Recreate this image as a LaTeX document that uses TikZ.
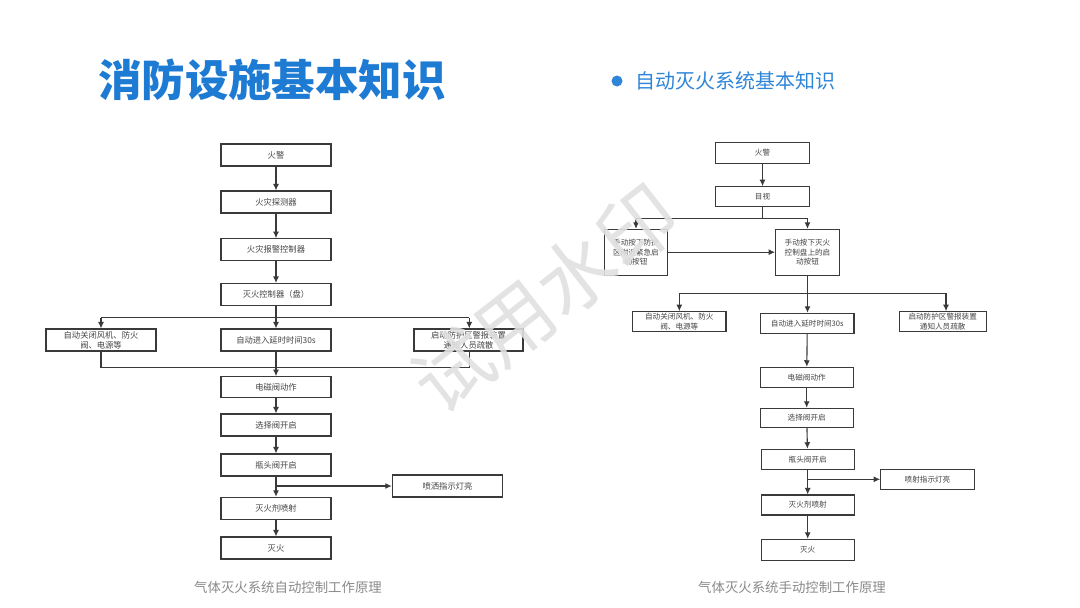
\documentclass[tikz,border=0pt]{standalone}
\usepackage{fontspec}
\setmainfont{Noto Sans CJK SC}
\usetikzlibrary{arrows.meta}
\definecolor{titleblue}{HTML}{1E7BD3}
\definecolor{subblue}{HTML}{2F86D9}
\definecolor{boxline}{HTML}{3A3A3A}
\definecolor{boxtext}{HTML}{444444}
\definecolor{capgray}{HTML}{8A8A8A}
\tikzset{
  box/.style={draw=boxline, line width=1.1pt, inner sep=0pt, align=center, text=boxtext,
    font=\fontsize{8.3}{10}\selectfont},
  lbox/.style={box, minimum width=110pt, minimum height=22pt},
  rbox/.style={box, minimum width=93.3pt, minimum height=20pt, font=\fontsize{7.6}{9.2}\selectfont},
  conn/.style={draw=boxline, line width=1.1pt},
  arr/.style={conn, -{Latex[length=6.5pt,width=6pt]}},
}
\begin{document}
\begin{tikzpicture}[x=1pt,y=-1pt]
\useasboundingbox (0,0) rectangle (1080,608);
\fill[white] (0,0) rectangle (1080,608);
% titles
\node[text=titleblue, font=\fontsize{43.5}{47}\bfseries\selectfont, inner sep=0] (title) at (272,80) {消防设施基本知识};
\fill[subblue] (617,81) circle (5.5);
\node[text=subblue, font=\fontsize{20}{24}\selectfont, inner sep=0, anchor=west] (sub) at (635,81) {自动灭火系统基本知识};
% ---------- left diagram ----------
\node[lbox] (L1) at (276,155) {火警};
\node[lbox] (L2) at (276,202) {火灾探测器};
\node[lbox] (L3) at (276,249.7) {火灾报警控制器};
\node[lbox] (L4) at (276,294.5) {灭火控制器（盘）};
\node[lbox] (L5a) at (101,340) {自动关闭风机、防火\\阀、电源等};
\node[lbox] (L5b) at (276,340) {自动进入延时时间30s};
\node[lbox, minimum width=109pt] (L5c) at (468.5,340) {启动防护区警报装置\\通知人员疏散};
\node[lbox, minimum height=21pt] (L6) at (276,387.2) {电磁阀动作};
\node[lbox] (L7) at (276,425) {选择阀开启};
\node[lbox] (L8) at (276,465) {瓶头阀开启};
\node[lbox] (L9) at (276,508.3) {灭火剂喷射};
\node[lbox] (L10) at (276,548) {灭火};
\node[lbox, minimum width=110.4pt] (LS) at (447.5,486) {喷洒指示灯亮};
\draw[arr] (L1) -- (L2);
\draw[arr] (L2) -- (L3);
\draw[arr] (L3) -- (L4);
\draw[arr] (L4) -- (L5b);
\coordinate (jl) at (101,317.7);
\coordinate (jr) at (469.3,317.7);
\draw[conn] (jl) -- (jr);
\draw[arr] (jl) -- (L5a.north);
\draw[arr] (jr) -- (jr |- L5c.north);
\coordinate (ml) at (101,367.3);
\coordinate (mr) at (469.3,367.3);
\draw[conn] (L5a.south) -- (ml) -- (mr) -- (mr |- L5c.south);
\draw[arr] (L5b) -- (L6);
\draw[arr] (L6) -- (L7);
\draw[arr] (L7) -- (L8);
\draw[arr] (L8) -- (L9);
\coordinate (bs) at (276,486);
\draw[arr] (bs) -- (LS.west);
\draw[arr] (L9) -- (L10);
\node[text=capgray, font=\fontsize{13.4}{16}\selectfont, inner sep=0] (capL) at (288,587) {气体灭火系统自动控制工作原理};
% ---------- right diagram ----------
\node[rbox, minimum height=20.6pt] (R1) at (762.5,153) {火警};
\node[rbox] (R2) at (762.5,196.7) {目视};
\node[rbox, minimum width=63.7pt, minimum height=45.7pt] (R3a) at (636,252.2) {手动按下防护\\区附近紧急启\\动按钮};
\node[rbox, minimum width=63.7pt, minimum height=45.7pt] (R3b) at (807.5,252.2) {手动按下灭火\\控制盘上的启\\动按钮};
\node[rbox] (R4a) at (679.3,321.7) {自动关闭风机、防火\\阀、电源等};
\node[rbox] (R4b) at (807.3,323.3) {自动进入延时时间30s};
\node[rbox, minimum width=86.7pt] (R4c) at (942.7,321.7) {启动防护区警报装置\\通知人员疏散};
\node[rbox] (R5) at (806.7,377.3) {电磁阀动作};
\node[rbox, minimum height=19.4pt] (R6) at (806.7,418) {选择阀开启};
\node[rbox] (R7) at (807.7,459.3) {瓶头阀开启};
\node[rbox, minimum width=93.6pt] (RS) at (927.5,479.3) {喷射指示灯亮};
\node[rbox] (R8) at (807.7,505) {灭火剂喷射};
\node[rbox, minimum height=20.7pt] (R9) at (807.7,549.7) {灭火};
\draw[arr] (R1) -- (R2);
\coordinate (rjl) at (636,218.3);
\coordinate (rjr) at (807.5,218.3);
\draw[conn] (R2.south) -- (R2.south |- rjl);
\draw[conn] (rjl) -- (rjr);
\draw[arr] (rjl) -- (R3a.north);
\draw[arr] (rjr) -- (R3b.north);
\draw[arr] (R3a.east) -- (R3b.west);
\coordinate (rk1) at (679.3,293.3);
\coordinate (rk2) at (807.5,293.3);
\coordinate (rk3) at (946,293.3);
\draw[conn] (R3b.south) -- (rk2);
\draw[conn] (rk1) -- (rk3);
\draw[arr] (rk1) -- (R4a.north);
\draw[arr] (rk2) -- (rk2 |- R4b.north);
\draw[arr] (rk3) -- (rk3 |- R4c.north);
\draw[arr] (R4b) -- (R5);
\draw[arr] (R5) -- (R6);
\draw[arr] (R6) -- (R7);
\draw[arr] (R7) -- (R8);
\coordinate (rbs) at (807.7,479.3);
\draw[arr] (rbs) -- (RS.west);
\draw[arr] (R8) -- (R9);
\node[text=capgray, font=\fontsize{13.4}{16}\selectfont, inner sep=0] (capR) at (792,587) {气体灭火系统手动控制工作原理};
% watermark
\node[text=black!12, opacity=0.9, rotate=38, font=\fontsize{78}{80}\selectfont, inner sep=0] (wm) at (545,298) {试用水印};
\end{tikzpicture}
\end{document}
